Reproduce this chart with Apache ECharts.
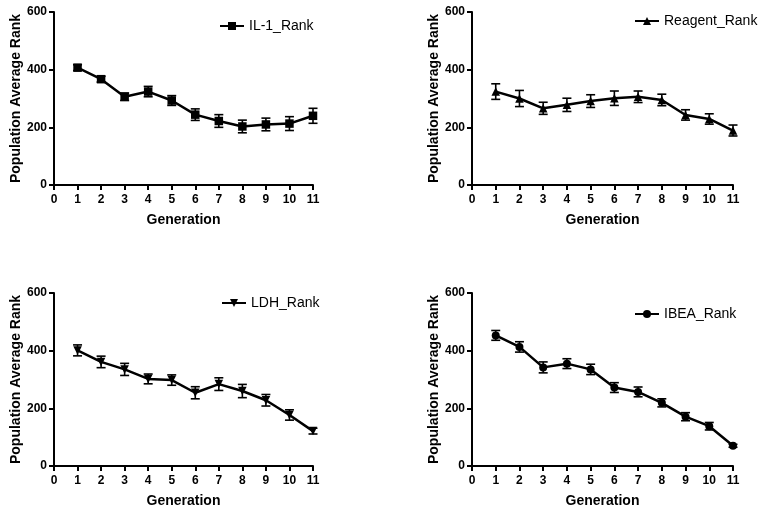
<!DOCTYPE html>
<html>
<head>
<meta charset="utf-8">
<script src="https://cdn.jsdelivr.net/npm/echarts@6/dist/echarts.min.js"></script>
<style>
html,body{margin:0;padding:0;background:#fff;}
#main{width:758px;height:513px;}
</style>
</head>
<body>
<div id="main"></div>
<script>
// generation numbers
var generations = [1, 2, 3, 4, 5, 6, 7, 8, 9, 10, 11];
// IL-1
var il1Mean = [407, 367, 306, 324, 293, 244, 222, 203, 210, 213, 240];
var il1Err  = [10, 10, 13, 18, 17, 20, 22, 22, 22, 24, 26];
// Reagent
var reagentMean = [324, 300, 266, 278, 291, 301, 306, 295, 243, 229, 189];
var reagentErr  = [27, 28, 21, 23, 22, 25, 20, 20, 18, 18, 19];
// LDH
var ldhMean = [401, 361, 335, 302, 298, 254, 284, 260, 228, 177, 121];
var ldhErr  = [19, 20, 21, 17, 18, 21, 22, 23, 20, 18, 10];
// IBEA
var ibeaMean = [453, 413, 342, 355, 335, 272, 257, 219, 171, 138, 70];
var ibeaErr  = [17, 18, 19, 17, 18, 17, 17, 14, 14, 13, 5];
// axis ticks
var xTicks = [0, 11, 1];
var yTicks = [0, 600, 200];

var panels = [
    {name: 'IL-1_Rank', mean: il1Mean, err: il1Err, symbol: 'rect', rotate: 0,
        grid: {left: 54, right: 445, top: 12, bottom: 328}, legend: {left: 214, top: 14}},
    {name: 'Reagent_Rank', mean: reagentMean, err: reagentErr, symbol: 'triangle', rotate: 0,
        grid: {left: 472, right: 25, top: 12, bottom: 328}, legend: {left: 629, top: 9}},
    {name: 'LDH_Rank', mean: ldhMean, err: ldhErr, symbol: 'triangle', rotate: 180,
        grid: {left: 54, right: 445, top: 293, bottom: 47}, legend: {left: 216, top: 291}},
    {name: 'IBEA_Rank', mean: ibeaMean, err: ibeaErr, symbol: 'circle', rotate: 0,
        grid: {left: 472, right: 25, top: 293, bottom: 47}, legend: {left: 629, top: 302}}
];

var font = 'Liberation Sans, Arial, sans-serif';
var axisLine = {lineStyle: {color: '#000', width: 2}};
var axisTick = {show: true, length: 5, lineStyle: {color: '#000', width: 2}};

var grids = [], xAxes = [], yAxes = [], series = [], legends = [];

panels.forEach(function (p, i) {
    grids.push(p.grid);
    xAxes.push({
        type: 'value', gridIndex: i, min: xTicks[0], max: xTicks[1], interval: xTicks[2],
        name: 'Generation', nameLocation: 'middle', nameGap: 28,
        nameTextStyle: {color: '#000', fontFamily: font, fontWeight: 'bold', fontSize: 14},
        axisLine: axisLine, axisTick: axisTick, splitLine: {show: false},
        axisLabel: {color: '#000', fontFamily: font, fontWeight: 'bold', fontSize: 12, margin: 9}
    });
    yAxes.push({
        type: 'value', gridIndex: i, min: yTicks[0], max: yTicks[1], interval: yTicks[2],
        name: 'Population Average Rank', nameLocation: 'middle', nameGap: 31,
        nameTextStyle: {color: '#000', fontFamily: font, fontWeight: 'bold', fontSize: 14},
        axisLine: {show: true, lineStyle: {color: '#000', width: 2}}, axisTick: axisTick,
        splitLine: {show: false},
        axisLabel: {color: '#000', fontFamily: font, fontWeight: 'bold', fontSize: 12, margin: 7}
    });
    var pts = generations.map(function (g, k) { return [g, p.mean[k]]; });
    var errPts = generations.map(function (g, k) { return [g, p.mean[k] - p.err[k], p.mean[k] + p.err[k]]; });
    series.push({
        type: 'custom', name: p.name + '_err', xAxisIndex: i, yAxisIndex: i,
        data: errPts, silent: true, z: 1,
        renderItem: function (params, api) {
            var lo = api.coord([api.value(0), api.value(1)]);
            var hi = api.coord([api.value(0), api.value(2)]);
            var w = 4.5;
            var st = {stroke: '#000', lineWidth: 1.6};
            return {
                type: 'group',
                children: [
                    {type: 'line', shape: {x1: lo[0], y1: lo[1], x2: hi[0], y2: hi[1]}, style: st},
                    {type: 'line', shape: {x1: lo[0] - w, y1: lo[1], x2: lo[0] + w, y2: lo[1]}, style: st},
                    {type: 'line', shape: {x1: hi[0] - w, y1: hi[1], x2: hi[0] + w, y2: hi[1]}, style: st}
                ]
            };
        }
    });
    series.push({
        type: 'line', name: p.name, xAxisIndex: i, yAxisIndex: i, data: pts, z: 2,
        symbol: p.symbol, symbolSize: p.symbol === 'circle' ? 8 : 8.5, symbolRotate: p.rotate,
        showAllSymbol: true,
        lineStyle: {color: '#000', width: 2.5},
        itemStyle: {color: '#000'}
    });
    legends.push({
        data: [p.name], left: p.legend.left, top: p.legend.top, orient: 'vertical',
        itemWidth: 24, itemHeight: 10, itemGap: 6,
        textStyle: {color: '#000', fontFamily: font, fontSize: 14}
    });
});

var myChart = echarts.init(document.getElementById('main'));
myChart.setOption({
    animation: false,
    backgroundColor: '#fff',
    grid: grids,
    xAxis: xAxes,
    yAxis: yAxes,
    legend: legends,
    series: series
});
</script>
</body>
</html>
